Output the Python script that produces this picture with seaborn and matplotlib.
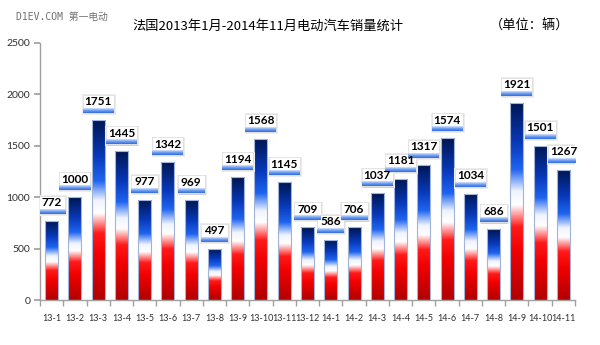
import numpy as np
import pandas as pd
import matplotlib
matplotlib.use("Agg")
import matplotlib.pyplot as plt
import seaborn as sns
from matplotlib.colors import LinearSegmentedColormap
from matplotlib.patches import Rectangle

categories = ["13-1", "13-2", "13-3", "13-4", "13-5", "13-6", "13-7", "13-8", "13-9", "13-10",
              "13-11", "13-12", "14-1", "14-2", "14-3", "14-4", "14-5", "14-6", "14-7", "14-8",
              "14-9", "14-10", "14-11"]
sales = [772, 1000, 1751, 1445, 977, 1342, 969, 497, 1194, 1568, 1145, 709, 586, 706,
         1037, 1181, 1317, 1574, 1034, 686, 1921, 1501, 1267]
y_ticks = [0, 500, 1000, 1500, 2000, 2500]
title = "法国2013年1月-2014年11月电动汽车销量统计"
unit = "（单位：辆）"
watermark = "D1EV.COM 第一电动"

sns.set_theme(style="white")
plt.rcParams['font.family'] = ['Noto Sans CJK SC', 'DejaVu Sans']

df = pd.DataFrame({"month": categories, "sales": sales})

fig = plt.figure(figsize=(6.0, 3.45), dpi=100)
ax = fig.add_axes([40/600, 1-300/345, 535/600, 257/345])

sns.barplot(data=df, x="month", y="sales", ax=ax, width=0.56, color="white",
            edgecolor="#9fb4d8", linewidth=0.8, saturation=1)

ax.set_ylim(0, 2500)
ax.set_xlim(-0.5, len(categories) - 0.5)

flag = LinearSegmentedColormap.from_list("flag", [
    (0.0, "#b00000"), (0.25, "#f20000"), (0.37, "#ff1a1a"), (0.48, "#ffffff"),
    (0.55, "#f0f4ff"), (0.66, "#1e64f0"), (0.8, "#0838b8"), (1.0, "#001650")])
grad = flag(np.linspace(0, 1, 256))[::-1][:, None, :]

band = LinearSegmentedColormap.from_list("band", ["#d6e4fb", "#6a9cf0", "#2f6ce0"])
band_img = band(np.linspace(0, 1, 32))[:, None, :]

px = 2500 / 257.0   # data units per pixel (y)
cx = 1 / (535 / 23.0)  # category units per pixel (x)

for patch, v in zip(ax.patches, sales):
    x0 = patch.get_x(); w = patch.get_width(); h = patch.get_height()
    im = ax.imshow(grad, extent=[x0, x0 + w, 0, h], aspect="auto", zorder=2,
                   interpolation="bilinear")
    im.set_clip_path(patch)
    patch.set_zorder(3)
    patch.set_facecolor("none")

    xc = x0 + w / 2
    bw = (31 if v >= 1000 else 27) * cx
    yb = h + 7 * px
    yt = yb + 18 * px
    # soft shadow
    ax.add_patch(Rectangle((xc - bw/2 - 0.5*cx, yb - 2*px), bw + 2.5*cx, yt - yb + 2.5*px,
                           facecolor="#ececec", edgecolor="none", zorder=4))
    ax.add_patch(Rectangle((xc - bw/2 + 1*cx, yb - 1.2*px), bw, yt - yb,
                           facecolor="#d0d0d0", edgecolor="none", zorder=4))
    ax.add_patch(Rectangle((xc - bw/2, yb), bw, yt - yb, facecolor="white",
                           edgecolor="#dcdcdc", linewidth=0.5, zorder=5))
    ax.imshow(band_img, extent=[xc - bw/2, xc + bw/2, yb, yb + 4.5*px], aspect="auto",
              zorder=6, interpolation="bilinear")
    ax.text(xc, yb + 11*px, str(v), ha="center", va="center", fontsize=8.5,
            fontweight="bold", color="black", zorder=7, family=["Lato", "DejaVu Sans"])

ax.set_xlim(-0.5, len(categories) - 0.5)
ax.set_ylim(0, 2500)
ax.set_yticks(y_ticks)
ax.set_yticklabels([str(t) for t in y_ticks], fontsize=7.5, color="#303030",
                   family=["Lato", "DejaVu Sans"])
ax.set_xticks(range(len(categories)))
ax.set_xticklabels(categories, fontsize=6.5, color="#303030", family=["Lato", "DejaVu Sans"])
ax.set_xlabel(""); ax.set_ylabel("")
for s in ["top", "right"]:
    ax.spines[s].set_visible(False)
for s in ["left", "bottom"]:
    ax.spines[s].set_color("#a0a0a0")
    ax.spines[s].set_linewidth(1.0)
ax.tick_params(axis="y", left=True, length=4, color="#a0a0a0", pad=3)
ax.tick_params(axis="x", bottom=False, pad=4)
ax.set_xticks(np.arange(-0.5, len(categories), 1), minor=True)
ax.tick_params(axis="x", which="minor", bottom=True, length=4, color="#a0a0a0")
ax.grid(False)

fig.text(16/600, 1-17/345, watermark, fontsize=7, color="#707070", va="center", ha="left",
         family=["DejaVu Sans Mono", "Noto Sans CJK SC"])
fig.text(132/600, 1-26/345, title, fontsize=9.5, color="black", va="center", ha="left")
fig.text(490/600, 1-26/345, unit, fontsize=9.5, color="black", va="center", ha="left")

fig.savefig("out.png", dpi=100)
